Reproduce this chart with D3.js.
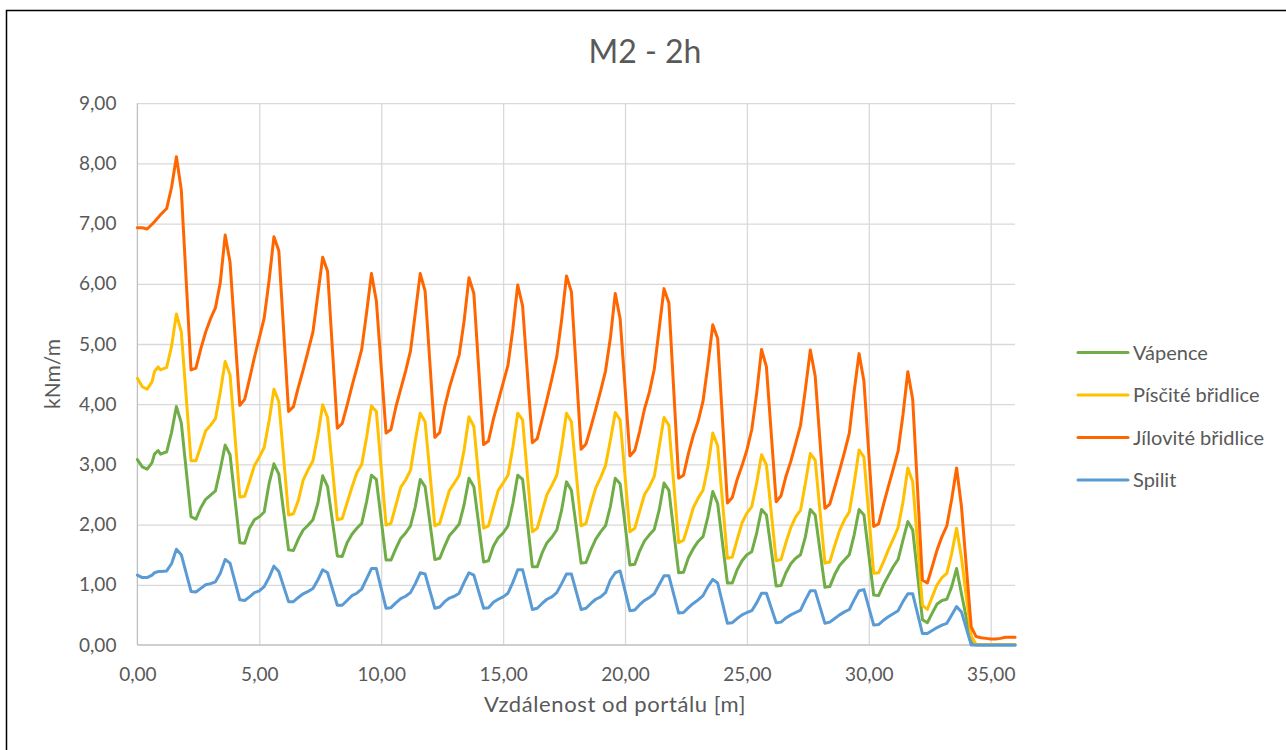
<!DOCTYPE html>
<html>
<head>
<meta charset="utf-8">
<script src="https://cdn.jsdelivr.net/npm/d3@7"></script>
<style>
  html, body { margin: 0; padding: 0; background: #fff; }
  svg { display: block; font-family: Lato, "Open Sans", sans-serif; }
</style>
</head>
<body>
<svg id="chart" width="1286" height="750"></svg>
<script>
// Distance from the portal [m] – shared by all four series
const distance = [
  0, 0.2, 0.4, 0.6, 0.7, 0.85, 0.95, 1.2, 1.4, 1.6, 1.8,
  2.2, 2.4, 2.6, 2.8, 3.0, 3.2, 3.4, 3.6, 3.8,
  4.2, 4.4, 4.6, 4.8, 5.0, 5.2, 5.4, 5.6, 5.8,
  6.2, 6.4, 6.6, 6.8, 7.0, 7.2, 7.4, 7.6, 7.8,
  8.2, 8.4, 8.6, 8.8, 9.0, 9.2, 9.4, 9.6, 9.8,
  10.2, 10.4, 10.6, 10.8, 11.0, 11.2, 11.4, 11.6, 11.8,
  12.2, 12.4, 12.6, 12.8, 13.0, 13.2, 13.4, 13.6, 13.8,
  14.2, 14.4, 14.6, 14.8, 15.0, 15.2, 15.4, 15.6, 15.8,
  16.2, 16.4, 16.6, 16.8, 17.0, 17.2, 17.4, 17.6, 17.8,
  18.2, 18.4, 18.6, 18.8, 19.0, 19.2, 19.4, 19.6, 19.8,
  20.2, 20.4, 20.6, 20.8, 21.0, 21.2, 21.4, 21.6, 21.8,
  22.2, 22.4, 22.6, 22.8, 23.0, 23.2, 23.4, 23.6, 23.8,
  24.2, 24.4, 24.6, 24.8, 25.0, 25.2, 25.4, 25.6, 25.8,
  26.2, 26.4, 26.6, 26.8, 27.0, 27.2, 27.4, 27.6, 27.8,
  28.2, 28.4, 28.6, 28.8, 29.0, 29.2, 29.4, 29.6, 29.8,
  30.2, 30.4, 30.6, 30.8, 31.0, 31.2, 31.4, 31.6, 31.8,
  32.2, 32.4, 32.6, 32.8, 33.0, 33.2, 33.4, 33.6, 33.8,
  34.2, 34.4, 34.6, 34.8, 35.0, 35.2, 35.4, 35.6, 35.8, 36.0
];

// Vápence [kNm/m]
const vapence = [
  3.08, 2.96, 2.92, 3.03, 3.17, 3.23, 3.17, 3.21, 3.53, 3.96, 3.69,
  2.13, 2.09, 2.28, 2.42, 2.49, 2.56, 2.92, 3.32, 3.16,
  1.70, 1.69, 1.94, 2.08, 2.13, 2.21, 2.68, 3.01, 2.84,
  1.58, 1.57, 1.76, 1.91, 1.99, 2.08, 2.35, 2.81, 2.63,
  1.48, 1.47, 1.70, 1.84, 1.94, 2.02, 2.38, 2.82, 2.75,
  1.41, 1.41, 1.60, 1.77, 1.86, 1.98, 2.30, 2.75, 2.63,
  1.42, 1.44, 1.64, 1.82, 1.91, 2.01, 2.33, 2.77, 2.63,
  1.38, 1.40, 1.64, 1.78, 1.86, 1.98, 2.35, 2.82, 2.75,
  1.30, 1.30, 1.53, 1.70, 1.79, 1.91, 2.24, 2.71, 2.57,
  1.36, 1.37, 1.58, 1.76, 1.88, 1.98, 2.30, 2.77, 2.68,
  1.33, 1.34, 1.56, 1.73, 1.83, 1.92, 2.24, 2.69, 2.57,
  1.20, 1.21, 1.45, 1.60, 1.72, 1.80, 2.13, 2.55, 2.35,
  1.03, 1.03, 1.25, 1.40, 1.50, 1.55, 1.86, 2.25, 2.16,
  0.98, 0.99, 1.20, 1.35, 1.44, 1.50, 1.80, 2.25, 2.16,
  0.96, 0.97, 1.17, 1.32, 1.41, 1.50, 1.83, 2.25, 2.16,
  0.83, 0.82, 1.00, 1.15, 1.30, 1.42, 1.74, 2.05, 1.91,
  0.42, 0.37, 0.53, 0.68, 0.74, 0.76, 0.97, 1.27, 0.85,
  0.05, 0.00, 0.00, 0.00, 0.00, 0.00, 0.00, 0.00, 0.00, 0.00
];

// Písčité břidlice [kNm/m]
const piscite = [
  4.43, 4.29, 4.25, 4.37, 4.54, 4.62, 4.57, 4.61, 4.96, 5.50, 5.20,
  3.06, 3.06, 3.30, 3.56, 3.65, 3.76, 4.20, 4.71, 4.49,
  2.46, 2.47, 2.72, 2.98, 3.12, 3.28, 3.72, 4.25, 4.04,
  2.16, 2.18, 2.40, 2.74, 2.91, 3.06, 3.48, 3.99, 3.78,
  2.08, 2.10, 2.36, 2.62, 2.86, 3.00, 3.45, 3.97, 3.88,
  1.99, 2.02, 2.32, 2.62, 2.74, 2.90, 3.40, 3.85, 3.71,
  1.98, 2.02, 2.30, 2.57, 2.69, 2.82, 3.24, 3.79, 3.63,
  1.94, 1.98, 2.28, 2.57, 2.69, 2.82, 3.29, 3.85, 3.74,
  1.88, 1.94, 2.22, 2.50, 2.65, 2.82, 3.29, 3.85, 3.71,
  1.98, 2.02, 2.33, 2.61, 2.78, 2.98, 3.40, 3.86, 3.74,
  1.88, 1.94, 2.22, 2.50, 2.63, 2.80, 3.29, 3.78, 3.65,
  1.70, 1.74, 2.00, 2.28, 2.44, 2.57, 2.96, 3.52, 3.31,
  1.44, 1.46, 1.75, 2.03, 2.19, 2.30, 2.69, 3.16, 2.99,
  1.40, 1.42, 1.70, 1.95, 2.13, 2.24, 2.69, 3.18, 3.07,
  1.36, 1.38, 1.65, 1.90, 2.08, 2.21, 2.69, 3.24, 3.12,
  1.19, 1.20, 1.38, 1.58, 1.76, 1.95, 2.37, 2.94, 2.71,
  0.66, 0.59, 0.80, 1.00, 1.12, 1.19, 1.52, 1.94, 1.45,
  0.15, 0.01, 0.01, 0.01, 0.01, 0.01, 0.01, 0.01, 0.01, 0.01
];

// Jílovité břidlice [kNm/m]
const jilovite = [
  6.93, 6.93, 6.91, 6.99, 7.03, 7.10, 7.15, 7.25, 7.60, 8.11, 7.56,
  4.57, 4.60, 4.92, 5.20, 5.42, 5.60, 6.02, 6.81, 6.36,
  3.98, 4.08, 4.42, 4.78, 5.10, 5.43, 6.05, 6.78, 6.55,
  3.88, 3.96, 4.28, 4.57, 4.88, 5.20, 5.82, 6.44, 6.21,
  3.60, 3.68, 3.98, 4.30, 4.60, 4.91, 5.52, 6.17, 5.72,
  3.52, 3.58, 3.95, 4.25, 4.55, 4.88, 5.52, 6.17, 5.88,
  3.45, 3.53, 3.95, 4.28, 4.55, 4.82, 5.38, 6.10, 5.84,
  3.33, 3.39, 3.75, 4.05, 4.35, 4.65, 5.25, 5.98, 5.63,
  3.36, 3.43, 3.75, 4.08, 4.42, 4.79, 5.40, 6.13, 5.87,
  3.25, 3.34, 3.62, 3.92, 4.22, 4.55, 5.10, 5.84, 5.42,
  3.14, 3.23, 3.55, 3.92, 4.20, 4.58, 5.25, 5.92, 5.68,
  2.77, 2.82, 3.18, 3.48, 3.72, 4.05, 4.65, 5.32, 5.09,
  2.36, 2.45, 2.75, 2.98, 3.24, 3.58, 4.18, 4.91, 4.62,
  2.38, 2.48, 2.80, 3.05, 3.35, 3.65, 4.25, 4.90, 4.47,
  2.27, 2.34, 2.62, 2.90, 3.20, 3.52, 4.22, 4.84, 4.38,
  1.97, 2.01, 2.33, 2.63, 2.92, 3.22, 3.82, 4.54, 4.08,
  1.08, 1.03, 1.30, 1.58, 1.80, 1.98, 2.42, 2.94, 2.30,
  0.30, 0.14, 0.12, 0.11, 0.10, 0.10, 0.11, 0.13, 0.13, 0.13
];

// Spilit [kNm/m]
const spilit = [
  1.16, 1.12, 1.12, 1.16, 1.20, 1.22, 1.22, 1.23, 1.35, 1.59, 1.50,
  0.89, 0.88, 0.94, 1.00, 1.02, 1.05, 1.19, 1.42, 1.36,
  0.75, 0.74, 0.80, 0.87, 0.90, 0.97, 1.12, 1.31, 1.22,
  0.72, 0.72, 0.79, 0.85, 0.89, 0.94, 1.08, 1.25, 1.20,
  0.66, 0.66, 0.74, 0.82, 0.86, 0.93, 1.10, 1.27, 1.27,
  0.61, 0.62, 0.70, 0.77, 0.81, 0.87, 1.02, 1.20, 1.18,
  0.61, 0.63, 0.72, 0.78, 0.81, 0.86, 1.04, 1.20, 1.16,
  0.61, 0.62, 0.71, 0.76, 0.80, 0.86, 1.04, 1.25, 1.25,
  0.59, 0.61, 0.69, 0.76, 0.80, 0.87, 1.02, 1.18, 1.18,
  0.59, 0.61, 0.69, 0.76, 0.80, 0.87, 1.08, 1.20, 1.23,
  0.57, 0.58, 0.67, 0.74, 0.79, 0.85, 1.00, 1.15, 1.15,
  0.53, 0.54, 0.62, 0.69, 0.75, 0.82, 0.97, 1.09, 1.03,
  0.36, 0.37, 0.44, 0.50, 0.54, 0.57, 0.70, 0.86, 0.86,
  0.37, 0.38, 0.45, 0.50, 0.54, 0.58, 0.75, 0.90, 0.90,
  0.36, 0.38, 0.44, 0.50, 0.55, 0.59, 0.75, 0.90, 0.92,
  0.33, 0.34, 0.41, 0.47, 0.52, 0.57, 0.72, 0.85, 0.85,
  0.19, 0.19, 0.24, 0.29, 0.33, 0.36, 0.50, 0.64, 0.55,
  0.00, 0.00, 0.00, 0.00, 0.00, 0.00, 0.00, 0.00, 0.00, 0.00
];

const seriesNames = ["Vápence", "Písčité břidlice", "Jílovité břidlice", "Spilit"];
const seriesColors = ["#70AD47", "#FFC000", "#FF6600", "#5B9BD5"];
const xTicks = [0, 5, 10, 15, 20, 25, 30, 35];
const yTicks = [0, 1, 2, 3, 4, 5, 6, 7, 8, 9];
const chartTitle = "M2 - 2h";
const xTitle = "Vzdálenost od portálu [m]";
const yTitle = "kNm/m";

const seriesValues = [vapence, piscite, jilovite, spilit];

const svg = d3.select("#chart");
const textColor = "#595959";

// Czech number format: decimal comma, two decimals
const csLocale = d3.formatLocale({ decimal: ",", thousands: "\u00a0", grouping: [3], currency: ["", " Kč"] });
const fmt = csLocale.format(".2f");

const plot = { left: 137.4, right: 1015.1, top: 103.2, bottom: 645 };

const x = d3.scaleLinear().domain([0, 36]).range([plot.left, plot.right]);
const y = d3.scaleLinear().domain([0, 9]).range([plot.bottom, plot.top]);

// Outer chart frame
svg.append("rect")
  .attr("x", 6.5).attr("y", 10.5)
  .attr("width", 1300).attr("height", 760)
  .attr("fill", "#fff")
  .attr("stroke", "#000").attr("stroke-width", 1.5);

// Horizontal gridlines
svg.append("g")
  .attr("transform", `translate(${plot.left},0)`)
  .call(d3.axisLeft(y).tickValues(yTicks.slice(1)).tickSize(-(plot.right - plot.left)).tickFormat(""))
  .call(g => g.select(".domain").remove())
  .call(g => g.selectAll("line").attr("stroke", "#d9d9d9").attr("stroke-width", 1.3));

// Vertical gridlines
svg.append("g")
  .attr("transform", `translate(0,${plot.bottom})`)
  .call(d3.axisBottom(x).tickValues(xTicks.slice(1)).tickSize(-(plot.bottom - plot.top)).tickFormat(""))
  .call(g => g.select(".domain").remove())
  .call(g => g.selectAll("line").attr("stroke", "#d9d9d9").attr("stroke-width", 1.3));

// Axis lines
svg.append("line")
  .attr("x1", plot.left).attr("x2", plot.right)
  .attr("y1", plot.bottom).attr("y2", plot.bottom)
  .attr("stroke", "#bfbfbf").attr("stroke-width", 1.3);
svg.append("line")
  .attr("x1", plot.left).attr("x2", plot.left)
  .attr("y1", plot.top).attr("y2", plot.bottom)
  .attr("stroke", "#bfbfbf").attr("stroke-width", 1.3);

// Y tick labels
const yAxis = svg.append("g")
  .attr("transform", `translate(${plot.left},0)`)
  .call(d3.axisLeft(y).tickValues(yTicks).tickSize(0).tickPadding(21).tickFormat(fmt));
yAxis.select(".domain").remove();
yAxis.selectAll("text")
  .attr("fill", textColor).style("font-size", "19px").style("font-family", "Lato, sans-serif");

// X tick labels
const xAxis = svg.append("g")
  .attr("transform", `translate(0,${plot.bottom})`)
  .call(d3.axisBottom(x).tickValues(xTicks).tickSize(0).tickPadding(23).tickFormat(fmt));
xAxis.select(".domain").remove();
xAxis.selectAll("text")
  .attr("fill", textColor).style("font-size", "19px").style("font-family", "Lato, sans-serif");

// Series lines
const line = d3.line()
  .x((d, i) => x(distance[i]))
  .y(d => y(d));

svg.append("g")
  .selectAll("path")
  .data(seriesValues)
  .join("path")
  .attr("d", d => line(d))
  .attr("fill", "none")
  .attr("stroke", (d, i) => seriesColors[i])
  .attr("stroke-width", 3)
  .attr("stroke-linejoin", "round")
  .attr("stroke-linecap", "round");

// Title
svg.append("text")
  .attr("x", 645).attr("y", 63)
  .attr("text-anchor", "middle")
  .attr("fill", textColor)
  .style("font-size", "32px")
  .text(chartTitle);

// Axis titles
svg.append("text")
  .attr("x", 615).attr("y", 712)
  .attr("text-anchor", "middle")
  .attr("fill", textColor)
  .style("font-size", "22px")
  .style("letter-spacing", "0.6px")
  .text(xTitle);

svg.append("text")
  .attr("transform", "translate(60,374) rotate(-90)")
  .attr("text-anchor", "middle")
  .attr("fill", textColor)
  .style("font-size", "21px")
  .text(yTitle);

// Legend
const legendY = d3.scalePoint().domain(seriesNames).range([352.5, 480]);
const legend = svg.append("g")
  .selectAll("g")
  .data(seriesNames)
  .join("g")
  .attr("transform", d => `translate(1078,${legendY(d)})`);
legend.append("line")
  .attr("x1", 0).attr("x2", 50)
  .attr("stroke", (d, i) => seriesColors[i])
  .attr("stroke-width", 3)
  .attr("stroke-linecap", "round");
legend.append("text")
  .attr("x", 55).attr("dy", "0.35em")
  .attr("fill", textColor)
  .style("font-size", "20px")
  .text(d => d);
</script>
</body>
</html>
